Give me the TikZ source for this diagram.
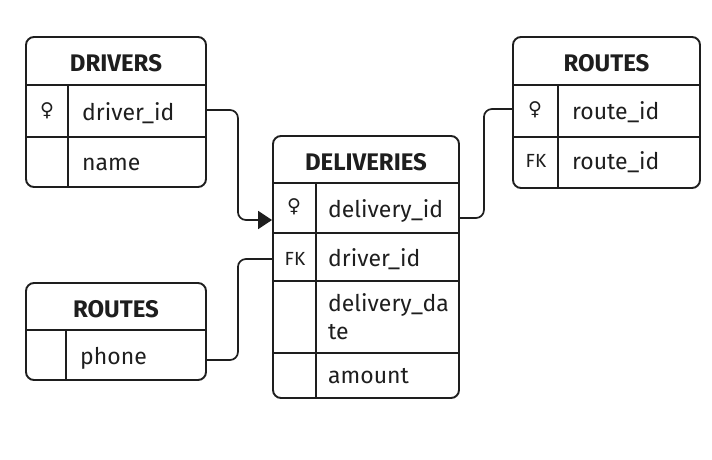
\documentclass[tikz,border=0pt]{standalone}
\usepackage{fontspec}
\setmainfont{Fira Sans}
\newfontfamily\symfont{DejaVu Sans}
\usetikzlibrary{arrows.meta}

\definecolor{ink}{HTML}{1E1E1E}

\tikzset{
  tbl/.style={draw=ink, line width=1.9pt, rounded corners=8pt, inner sep=0pt},
  hsep/.style={draw=ink, line width=1.9pt},
  rsep/.style={draw=ink, line width=1.3pt},
  csep/.style={draw=ink, line width=1.5pt},
  title/.style={font=\fontsize{24}{28}\selectfont\bfseries, text=ink, inner sep=0pt},
  field/.style={font=\fontsize{23}{28}\selectfont, text=ink, anchor=west, inner sep=0pt,
    align=left, text height=17pt, text depth=5pt},
  keyicon/.style={font=\symfont\fontsize{19}{19}\selectfont, text=ink, inner sep=0pt},
  fk/.style={font=\fontsize{19}{19}\selectfont, text=ink, inner sep=0pt},
  link/.style={draw=ink, line width=1.7pt, rounded corners=8pt}
}

\begin{document}
\begin{tikzpicture}[x=1pt,y=-1pt]
\useasboundingbox (0,0) rectangle (712,460);

%% DRIVERS
\node[tbl, minimum width=180pt, minimum height=150pt] (drivers) at (116,112) {};
\draw[hsep] (26,85) -- (206,85);
\draw[rsep] (26,137) -- (206,137);
\draw[csep] (68,85) -- (68,187);
\node[title] (drvtitle) at (116,63) {DRIVERS};
\node[keyicon] (drvkey) at (47,111) {♀};
\node[field] (drvid) at (82,114) {driver\_id};
\node[field] (drvname) at (82,164) {name};

%% DELIVERIES
\node[tbl, minimum width=186pt, minimum height=262pt] (deliveries) at (366,267) {};
\draw[hsep] (273,183) -- (459,183);
\draw[rsep] (273,233) -- (459,233);
\draw[rsep] (273,281) -- (459,281);
\draw[rsep] (273,353) -- (459,353);
\draw[csep] (316,183) -- (316,398);
\node[title] (deltitle) at (366,162) {DELIVERIES};
\node[keyicon] (delkey) at (294,207) {♀};
\node[field] (delid) at (328,211) {delivery\_id};
\node[fk] (delfkmark) at (295,259) {FK};
\node[field] (delfk) at (328,260) {driver\_id};
\node[field] (deldate) at (328,333) {delivery\_da\\te};
\node[field] (delamount) at (328,377) {amount};

%% ROUTES (right)
\node[tbl, minimum width=187pt, minimum height=151pt] (routes) at (606.5,112.5) {};
\draw[hsep] (513,85) -- (700,85);
\draw[rsep] (513,137) -- (700,137);
\draw[csep] (558,85) -- (558,188);
\node[title] (rttitle) at (606.5,63) {ROUTES};
\node[keyicon] (rtkey) at (535,110) {♀};
\node[field] (rtid) at (572,113) {route\_id};
\node[fk] (rtfkmark) at (536,161) {FK};
\node[field] (rtfk) at (572,163) {route\_id};

%% ROUTES (left, phone)
\node[tbl, minimum width=180pt, minimum height=97pt] (phonetbl) at (116,331.5) {};
\draw[hsep] (26,330) -- (206,330);
\draw[csep] (66,330) -- (66,380);
\node[title] (phtitle) at (116,309) {ROUTES};
\node[field] (phone) at (80,358) {phone};

%% links
\draw[link, -{Triangle[length=14pt,width=18pt]}]
  ([yshift=1pt]drivers.east |- drvkey) -- ++(31,0) |- ([yshift=-13pt]deliveries.west |- delkey);
\draw[link] ([yshift=-11pt]deliveries.east |- delkey) -- ++(24,0) |- ([yshift=1pt]routes.west |- rtkey);
\draw[link] ([yshift=-2pt]phonetbl.east |- phone) -- ++(31,0) |- (deliveries.west |- delfkmark);

\end{tikzpicture}
\end{document}
